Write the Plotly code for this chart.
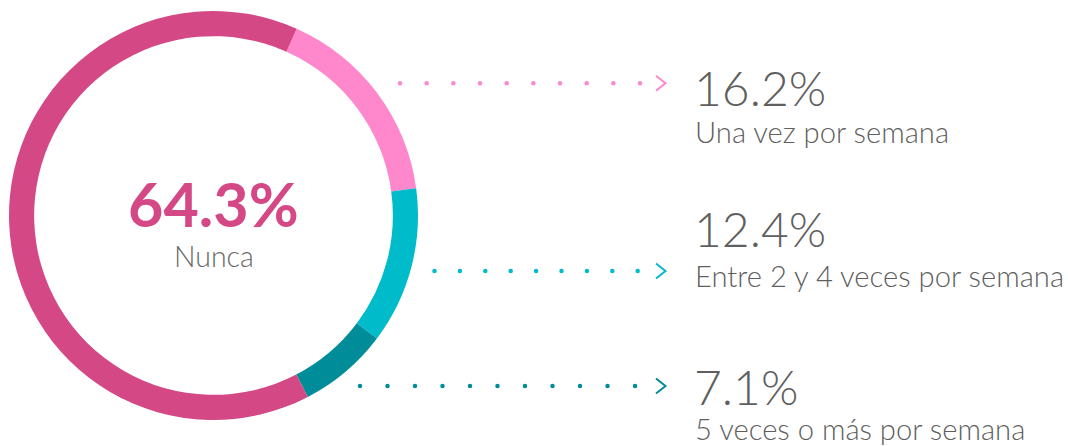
import plotly.graph_objects as go

# Data
categories = ["Una vez por semana", "Entre 2 y 4 veces por semana", "5 veces o más por semana", "Nunca"]
values = [16.2, 12.4, 7.1, 64.3]
colors = ["#FF88CC", "#00BBC9", "#008C98", "#D44886"]
value_labels = ["16.2%", "12.4%", "7.1%", "64.3%"]

W, H = 1068, 446
FONT = "Lato"
GRAY = "#5f5f5f"

fig = go.Figure()

fig.add_trace(go.Pie(
    values=values,
    labels=categories,
    marker=dict(colors=colors, line=dict(width=0)),
    hole=0.877,
    sort=False,
    direction="clockwise",
    rotation=24,
    textinfo="none",
    hoverinfo="skip",
    showlegend=False,
    domain=dict(x=[9 / W, 418 / W], y=[1 - 420 / H, 1 - 11 / H]),
))

# connector rows: (y, first dot x, spacing, count) for the three small slices
rows = [(83.3, 400, 26.67, 10), (271, 434.5, 25.4, 9), (386, 360, 27.5, 11)]
for (y, x0, dx, n), c in zip(rows, colors[:3]):
    xs = [x0 + i * dx for i in range(n)]
    fig.add_trace(go.Scatter(
        x=xs, y=[y] * n, mode="markers",
        marker=dict(size=4.5, color=c, line=dict(width=0)),
        hoverinfo="skip", showlegend=False, xaxis="x", yaxis="y"))
    fig.add_trace(go.Scatter(
        x=[656, 665.5, 656], y=[y - 7.5, y, y + 7.5], mode="lines",
        line=dict(color=c, width=2), hoverinfo="skip", showlegend=False))

annotations = []
# center label
annotations.append(dict(x=213.5, y=203, text="<b>" + value_labels[3] + "</b>", showarrow=False,
                        xanchor="center", yanchor="middle",
                        font=dict(family=FONT, size=61, color=colors[3])))
annotations.append(dict(x=213.5, y=256, text=categories[3], showarrow=False,
                        xanchor="center", yanchor="middle",
                        font=dict(family=FONT, size=28.5, color="#6a6a6a", weight=300)))

pct_y = [87, 228, 386]
lab_y = [131, 275, 428]
for i in range(3):
    annotations.append(dict(x=692, y=pct_y[i], text=value_labels[i], showarrow=False,
                            xanchor="left", yanchor="middle",
                            font=dict(family=FONT, size=48, color=GRAY, weight=300)))
    annotations.append(dict(x=693, y=lab_y[i], text=categories[i], showarrow=False,
                            xanchor="left", yanchor="middle",
                            font=dict(family=FONT, size=29.2, color=GRAY, weight=300)))

for a in annotations:
    a["xref"] = "x"
    a["yref"] = "y"

fig.update_layout(
    width=W, height=H,
    margin=dict(l=0, r=0, t=0, b=0),
    paper_bgcolor="white", plot_bgcolor="rgba(0,0,0,0)",
    xaxis=dict(range=[0, W], visible=False, fixedrange=True, domain=[0, 1]),
    yaxis=dict(range=[H, 0], visible=False, fixedrange=True, domain=[0, 1]),
    annotations=annotations,
)

fig.write_html(
    "out.html",
    config={"displayModeBar": False},
    post_script="document.body.style.margin='0';document.body.style.overflow='hidden';",
)
